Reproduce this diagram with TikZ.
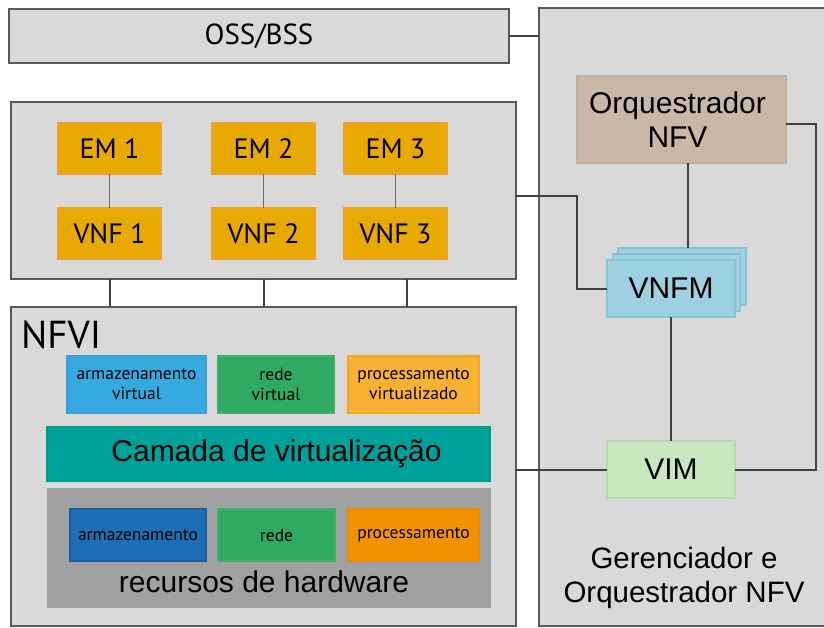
\documentclass[tikz,border=0pt]{standalone}
\usepackage{fontspec}
\setmainfont{Liberation Sans}
\newfontfamily\myr{PT Sans}
\usetikzlibrary{calc}
\definecolor{panel}{HTML}{D9D9D9}
\definecolor{panelline}{HTML}{595959}
\definecolor{emfill}{HTML}{E8A900}
\definecolor{emline}{HTML}{F0A030}
\definecolor{avfill}{HTML}{36A9E1}
\definecolor{avline}{HTML}{3AA0D8}
\definecolor{gfill}{HTML}{2FAA62}
\definecolor{gline}{HTML}{3CB06C}
\definecolor{pvfill}{HTML}{F8B133}
\definecolor{pvline}{HTML}{F5A623}
\definecolor{tealfill}{HTML}{00A19A}
\definecolor{teal2}{HTML}{009C92}
\definecolor{hwfill}{HTML}{A0A0A0}
\definecolor{ahfill}{HTML}{1D6EB5}
\definecolor{ahline}{HTML}{1A5E9E}
\definecolor{phfill}{HTML}{F39200}
\definecolor{phline}{HTML}{EE8A00}
\definecolor{orqfill}{HTML}{C9B8A8}
\definecolor{orqline}{HTML}{C2AE9C}
\definecolor{vnfmfill}{HTML}{9DD0E0}
\definecolor{vnfmline}{HTML}{86C3D6}
\definecolor{vimfill}{HTML}{C9E8C0}
\definecolor{vimline}{HTML}{B5DDAA}
\definecolor{conn}{HTML}{404040}
\definecolor{thin}{HTML}{6A6A6A}
\begin{document}
\begin{tikzpicture}[x=1pt,y=-1pt,
  base/.style={rectangle,anchor=north west,inner sep=0pt,outer sep=0pt,line width=1.2pt},
  panelbox/.style={base,fill=panel,draw=panelline,line width=1.5pt},
  embox/.style={base,fill=emfill,draw=emline,minimum width=103pt,minimum height=51pt,font=\myr\fontsize{28}{32}\selectfont},
  smallbox/.style={base,align=center,font=\myr\fontsize{17.5}{20}\selectfont},
  bigtxt/.style={font=\fontsize{30}{34}\selectfont},
  link/.style={draw=conn,line width=2pt},
  thinlink/.style={draw=thin,line width=1.2pt}]
\useasboundingbox (0,0) rectangle (824,628);
\fill[white] (0,0) rectangle (824,628);
% panels
\node[panelbox,minimum width=500pt,minimum height=54pt,font=\myr\fontsize{29}{32}\selectfont] (oss) at (9,9) {OSS/BSS};
\node[panelbox,minimum width=505pt,minimum height=177pt] (vnfbox) at (11,102) {};
\node[panelbox,minimum width=505pt,minimum height=319pt] (nfvi) at (11,307) {};
\node[panelbox,minimum width=286pt,minimum height=618pt] (mano) at (539,8) {};
% EM / VNF
\node[embox] (em1) at (58,123) {EM 1};
\node[embox] (em2) at (212,123) {EM 2};
\node[embox] (em3) at (344,123) {EM 3};
\node[embox] (vnf1) at (58,208) {VNF 1};
\node[embox] (vnf2) at (212,208) {VNF 2};
\node[embox] (vnf3) at (344,208) {VNF 3};
\draw[thinlink] (em1) -- (vnf1);
\draw[thinlink] (em2) -- (vnf2);
\draw[thinlink] (em3) -- (vnf3);
% NFVI content
\node[anchor=base west,inner sep=0pt,font=\myr\fontsize{39}{44}\selectfont] (nfvilabel) at (21,348) {NFVI};
\node[smallbox,fill=avfill,draw=avline,minimum width=139pt,minimum height=57pt] (av) at (67,356) {armazenamento\\virtual};
\node[smallbox,fill=gfill,draw=gline,minimum width=116pt,minimum height=57pt] (rv) at (218,356) {rede\\virtual};
\node[smallbox,fill=pvfill,draw=pvline,minimum width=131pt,minimum height=57pt] (pv) at (348,356) {processamento\\virtualizado};
\node[base,fill=tealfill,draw=teal2,minimum width=443pt,minimum height=54pt] (camada) at (47,427) {};
\node[bigtxt,inner sep=0pt] (camlabel) at ($(camada.center)+(8,0)$) {Camada de virtualização};
\node[base,fill=hwfill,draw=hwfill,minimum width=442pt,minimum height=118pt] (hw) at (48,489) {};
\node[bigtxt,inner sep=0pt] (hwlabel) at (264,582) {recursos de hardware};
\node[smallbox,fill=ahfill,draw=ahline,minimum width=136pt,minimum height=52pt] (ah) at (70,509) {armazenamento};
\node[smallbox,fill=gfill,draw=gline,minimum width=117pt,minimum height=52pt] (rh) at (218,509) {rede};
\node[smallbox,fill=phfill,draw=phline,minimum width=131pt,minimum height=52pt] (ph) at (348,509) {processamento};
% MANO content
\node[base,fill=orqfill,draw=orqline,minimum width=209pt,minimum height=87pt] (orq) at (577,76) {};
\node[align=center,inner sep=0pt,bigtxt] (orqlabel) at ($(orq.center)+(-4,0)$) {Orquestrador\\NFV};
\node[base,fill=vnfmfill,draw=vnfmline,minimum width=128pt,minimum height=57pt] (vnfmb) at (618,248) {};
\node[base,fill=vnfmfill,draw=vnfmline,minimum width=128pt,minimum height=57pt] (vnfmm) at (612.5,254) {};
\node[base,fill=vnfmfill,draw=vnfmline,minimum width=128pt,minimum height=57pt,bigtxt] (vnfm) at (607,260) {VNFM};
\node[base,fill=vimfill,draw=vimline,minimum width=128pt,minimum height=57pt,bigtxt] (vim) at (607,441) {VIM};
\node[align=center,inner sep=0pt,font=\fontsize{29.5}{34}\selectfont] (gerlabel) at (684,578) {Gerenciador e\\Orquestrador NFV};
% connectors
\draw[link] (oss.east) -- (oss.east -| mano.west);
\coordinate (v1) at (516,196);
\coordinate (k1) at (577,196);
\draw[link] (v1) -- (k1) |- (vnfm.west);
\coordinate (o1) at (688,163);
\coordinate (o2) at (688,248);
\draw[link] (o1) -- (o2);
\draw[link] (vnfm.south) -- (vim.north);
\coordinate (r1) at (816,124);
\coordinate (r2) at (786,124);
\draw[link] (vim.east) -| (r1) -- (r2);
\coordinate (n1) at (516,469.5);
\draw[link] (n1) -- (vim.west);
\foreach \xx in {110,264,407} {
  \draw[link] (\xx,279) -- (\xx,307);
}
\end{tikzpicture}
\end{document}
